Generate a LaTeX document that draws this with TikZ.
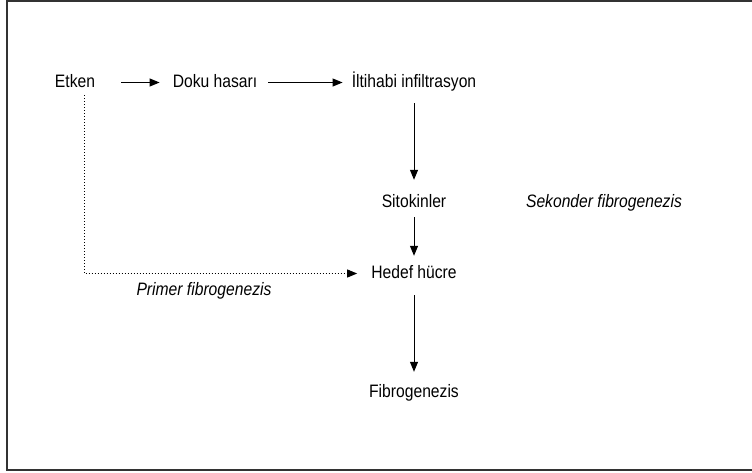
\documentclass[tikz,border=0pt]{standalone}
\usepackage{fontspec}
\setmainfont{Liberation Sans}[FakeStretch=0.87]
\usetikzlibrary{arrows.meta}
\begin{document}
\begin{tikzpicture}[x=1pt,y=-1pt,
  lbl/.style={inner sep=0pt,anchor=base,font=\fontsize{18pt}{21pt}\selectfont,text height=12.5pt,text depth=3.5pt},
  ilbl/.style={lbl,font=\fontsize{18pt}{21pt}\selectfont\itshape},
  arr/.style={line width=1pt,-{Triangle[length=10pt,width=8pt]}},
  darr/.style={arr,dash pattern=on 1pt off 2pt}]
\useasboundingbox (0,0) rectangle (752,472);
\begin{scope}
\clip (0,0) rectangle (752,472);
\draw[line width=2pt,black!80] (7,1) rectangle (760,470);
\end{scope}
\node[lbl] (etken) at (75,87) {Etken};
\node[lbl] (doku) at (215,87) {Doku hasarı};
\node[lbl] (ilt) at (414,87) {İltihabi infiltrasyon};
\node[lbl] (sito) at (414,207) {Sitokinler};
\node[ilbl] (sek) at (604,207) {Sekonder fibrogenezis};
\node[lbl] (hedef) at (414,278) {Hedef hücre};
\node[ilbl] (primer) at (204,295) {Primer fibrogenezis};
\node[lbl] (fibro) at (414,397) {Fibrogenezis};
\coordinate (dl) at (84,273);
\draw[arr,shorten <=26pt,shorten >=13pt] (etken.east) -- (doku.west);
\draw[arr,shorten <=11pt,shorten >=9pt] (doku.east) -- (ilt.west);
\draw[arr,shorten <=12.5pt,shorten >=14.5pt] (ilt.south) -- (sito.north);
\draw[arr,shorten <=6.5pt,shorten >=9.5pt] (sito.south) -- (hedef.north);
\draw[arr,shorten <=13.5pt,shorten >=12.5pt] (hedef.south) -- (fibro.north);
\draw[darr,shorten <=4.5pt,shorten >=14pt] (etken.south -| dl) |- (hedef.west);
\end{tikzpicture}
\end{document}
